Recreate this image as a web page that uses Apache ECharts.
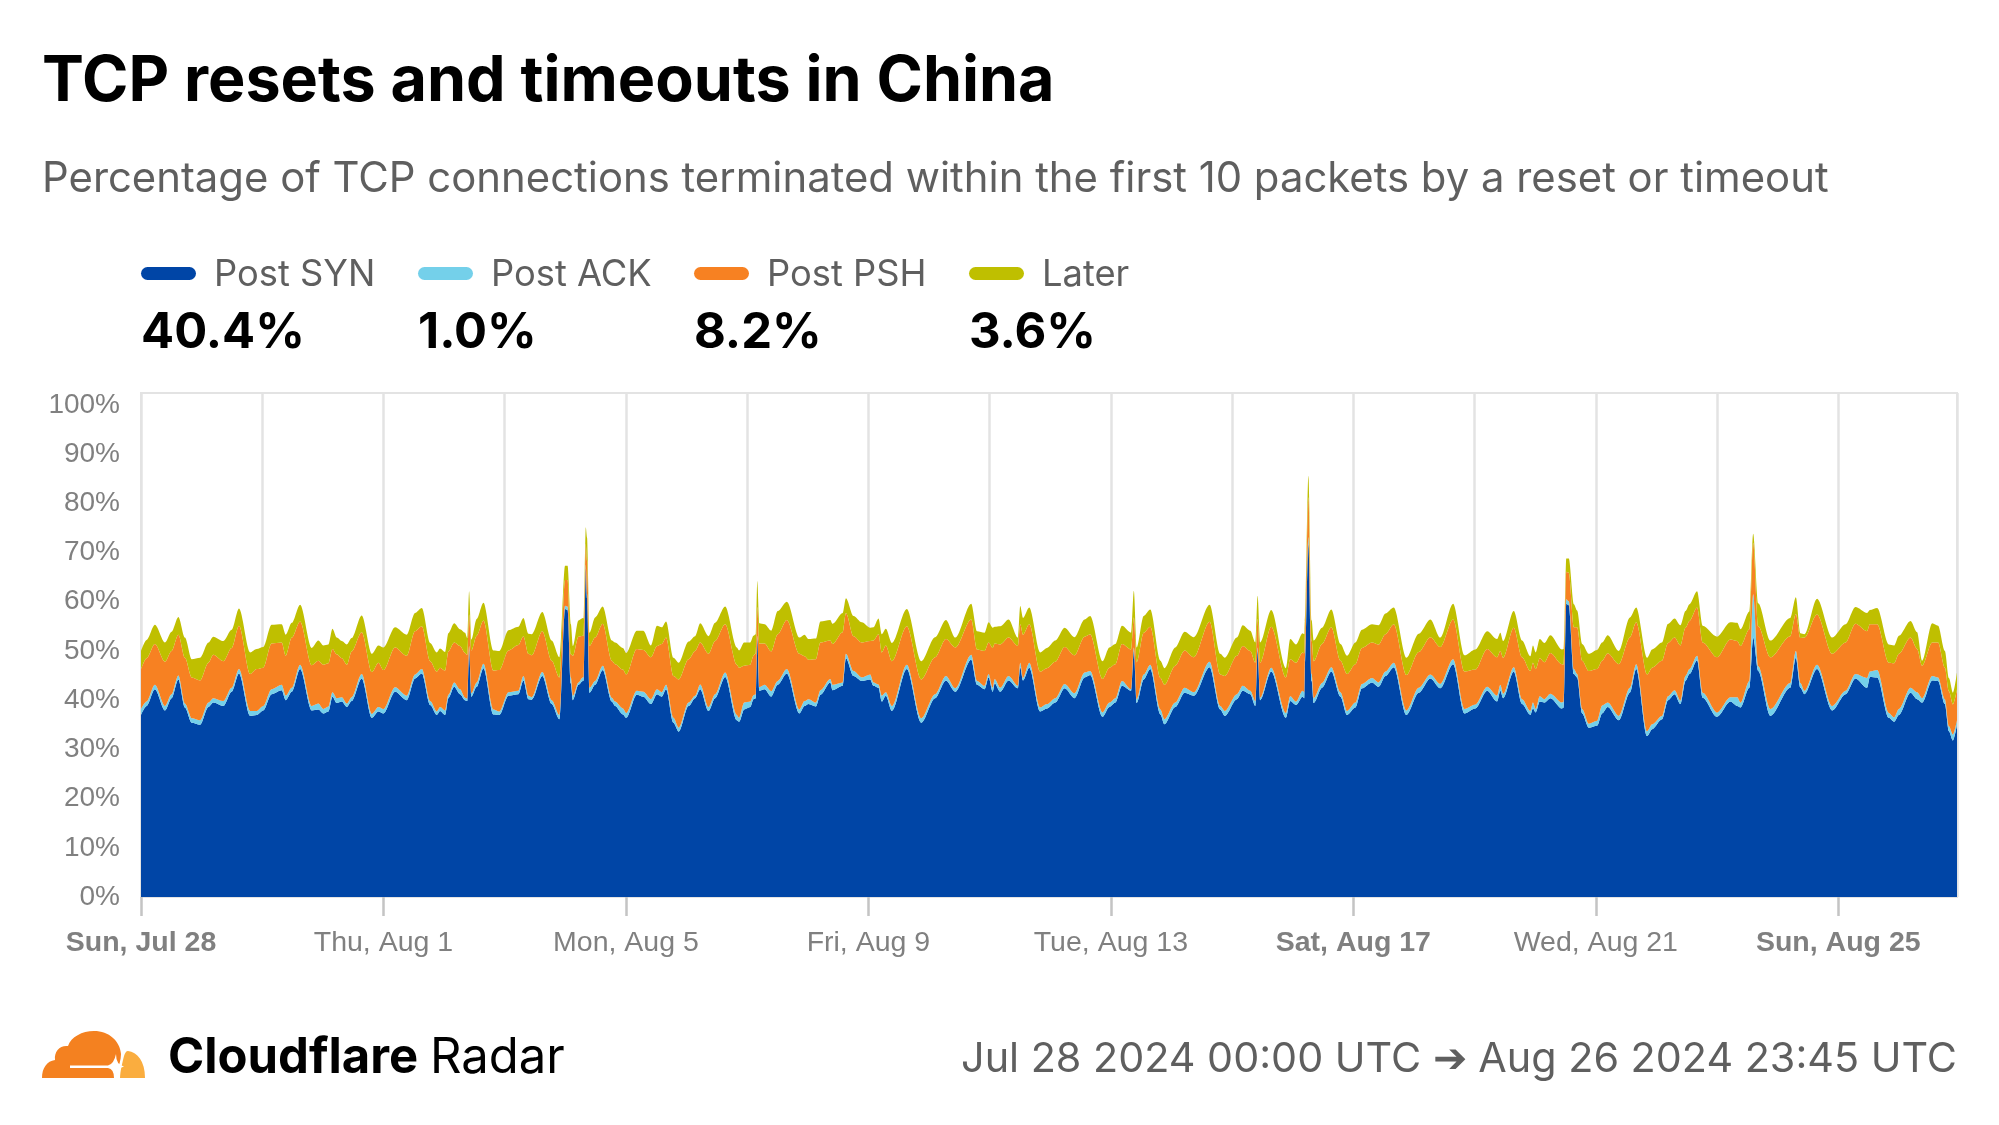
<!DOCTYPE html>
<html>
<head>
<meta charset="utf-8">
<script src="https://cdn.jsdelivr.net/npm/echarts@6/dist/echarts.min.js"></script>
<style>
  html, body { margin: 0; background: #fff; }
  #chart { width: 1999px; height: 1125px; }
</style>
</head>
<body>
<div id="chart"></div>
<script>
  // hours since Jul 28 2024 00:00 UTC at each feature of the curve
  const hours = [
    0,2.2,5.5,9.5,12.1,14.8,17.4,20.1,23.4,26.7,28.6,32.6,35.9,38.8,43.2,45.8,48.4,51.7,55.7,57.3,59.7,63,67.6,70.2,72.2,74.2,75.8,77.5,79.5,81.5,83.4,87.4,91.4,94,96,100.6,105.2,108.5,111.2,114.5,117.1,118.4,120.4,
    121.7,124,126.3,128.3,129.2,129.9,130.8,132.9,135.6,139.5,141.9,145.5,149.4,151.4,153.4,154.7,158.9,162.6,165.7,167.9,168.9,170.2,171,173.2,174.9,175.3,176.1,176.6,177.6,179.8,182.8,186.4,187.7,190.8,192.1,196.3,198.9,201.9,204.3,206.2,207.9,210.8,212.9,216.8,219.4,221.4,224.7,227.3,231.3,235.9,236.8,238.8,241.2,
    242.5,243.4,244,244.8,246.9,249.5,252.1,255.7,260.7,262.7,264.3,267.2,269,272.9,273.8,277.8,279.1,282.1,285.4,288.7,290,292,293.3,294.9,297.3,303.2,308.9,314.4,318.7,322.4,328.7,331,334,335.6,337.2,338,340.2,343.5,347.2,348.1,349.2,351.7,356,358.7,362,
    365.7,369.6,373.6,375.8,380.7,383.4,385.8,388.4,392,393.1,394.2,397,399.6,403.6,405.2,409.5,413.2,416.8,423.1,427.3,429.1,433.9,436.2,439.2,441.2,442.1,443.1,447.5,453.3,455,457.3,459.9,460.6,460.8,462.2,463.5,464.3,467.6,471.3,474.9,477.5,480.8,
    483.4,487.4,490,492.7,496,501,505.9,510.5,514.4,519.5,524,528.3,533,536.9,538.2,539.3,543.5,546.8,550.1,551.1,552.2,553.8,555.6,558,562.6,563.3,564.3,565.3,567.3,568.6,570.6,573.2,576.5,578.5,580.7,585.1,589.5,592,596.3,598.3,
    602.2,604.6,607.2,609.5,611.5,613.1,616.1,618.3,624,629.3,632,633.3,636.8,638.3,640.3,645.1,653,655.2,657,658.6,663.6,669.6,674.9,678.8,683.4,684.5,687.4,692,694.1,696,700.6,703.2,705.2,709.2,711.5,714.2,715.8,717.4,719
  ]
  const postSyn = [
    37,38.8,42.2,37.9,40.4,44.2,38.5,35.4,35,38.6,39.5,38.8,41.7,45.4,36.8,37,37.9,41.2,42,40,41.7,46.3,37.9,38.1,37.3,37.7,40.7,39.4,39.7,38.6,39.8,44.4,36.4,37.7,37.3,41.7,40,44.4,45.4,39,37,37.8,37,
    40.4,42.7,41.2,40,39.8,50.1,40.7,42.7,46.5,37.1,37,40.9,41.2,44,40.2,40.1,44.9,39.2,36.1,58.5,58.3,43.4,40,43.1,43.9,44,66.8,60.7,41.5,43.1,46.1,39.7,38.8,37.1,36.4,41.1,40.7,39.2,41.2,40.7,42.2,35.4,33.6,38.8,40.4,42.2,37.8,40.4,44.7,35.9,35.6,38.1,38.6,
    40.2,40.4,52.4,41.9,42.2,40.7,43.1,45.4,37.3,38.8,39.2,38.7,41.1,43.6,42,42.9,48.5,44.9,43.9,44.2,42.9,42.5,39.7,40.9,37.8,46.3,35.4,40.4,44,41.7,48.2,43.1,42.2,44.6,41.7,43.4,41.7,44,42.4,46.7,44,46.6,37.7,38.3,39.5,
    42.4,40.4,44.6,45.1,36.6,38.6,39.5,42.9,41.9,50,39.4,44.2,46.3,37.1,35.1,38.6,41.5,40.9,46.7,38.1,36.8,40.2,41.9,41.2,38.8,50,40,45.8,36.4,39.8,39,40.7,40.4,46.6,71.7,43.9,39.4,42.5,45.8,40.7,37,38.5,
    42.4,43.6,42.7,44.9,46.7,37,41.5,44.4,42.4,47.3,37.3,38.3,41.9,39.7,41.9,40.4,45.8,39.2,37,38.3,37.5,39.7,39.5,40.4,38.3,38.5,59.6,59.3,45.3,44.6,37.3,34.4,34.8,37.3,38.6,35.9,41.5,46.3,32.7,34.1,
    36.1,40,41.2,39.2,43.9,45.3,48.1,40.5,36.6,39.7,38.8,38.5,42.5,52.7,45.9,36.8,42.5,48.6,42.5,41.2,46.3,37.9,41.2,44.4,42.5,44.7,44.6,36.4,35.6,37,41.5,40.2,39.5,44,43.9,39.2,33.7,31.8,35
  ]
  const postAck = [
    1.2,.9,.9,.9,.8,.8,.8,.9,.9,.9,.9,1,.8,.9,1,.8,.9,1,1.1,.9,.8,.9,.9,1.2,.9,1,.9,1,.9,.7,.8,.9,.8,.9,.9,.9,.9,.8,.9,.8,.7,.8,.9,
    .7,.9,1,.5,.5,.9,.7,.9,.9,1,.7,.7,.7,.9,.7,.5,.8,.8,.9,.7,.7,1.2,.9,.5,.7,.7,.7,.8,1,.8,.9,.8,.9,1.2,1,.8,1,1,1,.9,.9,1,.8,.7,.5,1,.8,.8,.9,1.1,.8,1.4,1.1,
    .8,.8,.7,.7,.9,1.1,.8,.9,.8,1,1,.8,.9,.7,1.1,.7,.9,1,.7,1,.7,.7,1.2,.7,1,.9,.9,.8,.9,.7,1,.8,.7,.7,.8,.9,.8,.9,.5,.9,.5,1,.8,.9,.9,
    .9,1,1,.8,.9,.9,.9,1,.3,.7,.8,1,.9,1,1,.9,1,.7,1.1,.7,1,1,1,.7,1,.7,.5,.8,1,1,.7,1.2,1.2,1.4,1.4,1.4,1,1,.9,.9,.8,1,
    .9,.9,.9,.9,.9,.9,1,.8,.9,1,.9,.8,.8,1.2,1.2,.9,.9,1,.8,1.2,.7,1.1,.7,.9,1.2,1.2,.9,.8,1,.7,.9,.8,1,1.6,.9,.9,1,1,1,1,
    .7,.8,.8,.7,1,1,.9,1,.9,.9,1.8,1,1.4,8.8,1,1.4,1,1.4,1,.7,.9,.9,.7,.9,2,1.1,1.5,1,.9,1.2,1,1.4,.9,.9,.7,1,1,1.2,.9
  ]
  const postPsh = [
    8.1,8.8,8.3,9,8.8,8.3,9.3,8.3,8.1,8.1,8.8,8.1,8.1,8.8,7.5,8.5,7.8,9.3,8.6,8.1,10.2,8.8,8.3,8.7,9,8.8,8.8,8.9,7.9,7.9,9.3,8.5,8.5,9,7.9,8.1,8.1,8.8,8.7,8.1,8.1,8,8.1,
    8.8,8.1,8.8,9.1,8.9,6.4,8.7,9.5,8.8,7.9,8.4,8.5,9.3,8.1,8.5,8.5,8.3,8,7.6,5.2,5.4,4.7,8.1,9.3,8.5,8.3,4.2,6.8,8.5,8.8,8.5,7.5,7.6,7.9,7.8,8.5,8.5,8.5,8.8,9.8,9.6,8.5,9.8,8.8,9.1,8.5,10.8,10.8,9.8,10.2,10.2,7.5,7.5,
    8,8.3,5.8,8.9,8.4,8.1,9.5,10,11.3,9.1,8,8.8,9.7,7.8,8.3,10.2,8.3,7.1,7.1,6.8,8.5,10.2,8.8,9.5,9.1,7.8,7.9,7.5,7.5,8.3,7.2,6.4,7.1,6.4,8.1,7.2,8.8,7.8,8.1,7.8,8.8,7.8,7.3,7.3,7.4,
    7.5,7.7,7.3,7.5,6.8,7.1,6.9,7.5,8.1,6.1,7.5,8.5,7.7,6.4,7,7.5,7.6,7.1,8.1,6.4,7.1,7.8,8.1,8.1,7.8,5.8,7.1,8.3,7.2,7.5,7.9,7.8,7.9,5.4,8.1,6.8,7.5,7.9,8.1,6.4,7.5,7.8,
    7.3,7.2,7.7,7.6,7.8,7.2,7.3,7.6,7.5,8.1,7.6,7.1,7.7,7.8,6.9,7.3,8,8.5,8.1,8.1,8.1,7.7,7.5,8.3,7.8,7.5,5.6,5.8,8.5,9.5,9.8,10.7,10.5,9.1,10,10.5,10.2,8.5,11.5,11.5,
    11.2,10.8,10.7,11.2,9.8,9.8,9.8,10.2,11.2,11.7,11.4,11.5,10.5,10.5,8.1,10.5,9.5,7.5,9.1,10.8,10.2,10.6,9.8,10.2,9.5,9.6,9.3,10.2,11,11.2,10.2,8.8,6.6,6.8,7.1,6.4,7.1,6.1,6.3
  ]
  const later = [
    3.7,3.7,3.9,3.9,3.9,3.6,4.1,3.7,4.6,4.1,3.7,4.1,3.7,3.5,4.4,4.1,4.2,3.8,3.7,4.3,3,3.4,3.5,4.1,3.9,3.8,4.1,3.4,3.5,4.1,2.7,3.4,3.7,3.5,4.6,4.1,4.3,3.7,3.7,3.7,3.9,3.9,3.8,
    3.7,3.9,3.4,4.1,3.4,4.7,2.2,3.4,3.6,4.1,3.9,4.1,3.7,3.7,4.1,4.3,3.9,4.1,4.1,2.9,2.9,6.1,2,3.3,3.6,3.6,3.4,4.7,2.7,4.1,3.5,4.1,4.4,4.4,4.4,3.7,3.9,2.4,4.1,3.4,3.3,3.7,3.4,3.6,3,3.9,3.6,3.7,3.6,3.5,3.5,4.7,4.5,
    4.1,3.9,5.3,4.1,3.9,4.2,4.7,3.7,3.3,4.4,4.2,4.2,4.3,4.2,4.1,3.9,3,4.1,4.1,2.7,2.7,3.2,3.7,3.4,3.7,3.5,3.7,4.1,3.9,2,3.2,3.7,3.7,4.1,4.1,3.4,3.7,3.7,1.7,3.7,3.4,3.4,3.9,4.1,4.3,
    3.9,3.7,3.5,3.7,3.6,4.1,4.1,3.7,3.4,5.4,3,3.4,3.5,3.5,3.4,3.7,3.8,4.1,3.5,4.2,3.7,3.7,4.2,4.1,4.1,4.7,4.1,3.4,1.9,4.1,3.7,3.9,3.9,2.7,4.4,4.1,4.2,3.3,3.6,3.4,3.7,4.4,
    3.7,3.7,3.9,4.2,3.4,3.5,3.7,3.6,1.9,3.2,3.3,4.1,3.6,3.7,3.7,3.4,3.4,3.4,3,3.5,3.4,3.9,3.9,3.6,3,3.2,2.7,2.9,4.7,3.4,3.4,3.5,3.9,3.7,3.7,2.7,4.1,3,3.4,3.7,
    3.7,3.9,3.9,4.1,3.4,3.4,3.3,3.4,4.2,3.5,3.7,3.4,3.6,1.8,4.7,3.4,3.7,3.4,1,.7,3.2,3.3,3.7,3.4,3.7,2.9,3.3,3.7,3.6,3.7,3.4,3.4,1,3.9,3.4,3.4,2.7,2.4,3.4
  ]

  const yTicks = [0, 10, 20, 30, 40, 50, 60, 70, 80, 90, 100]
  const tickHours = [0, 96, 192, 288, 384, 480, 576, 672]
  const tickLabels = ['Sun, Jul 28', 'Thu, Aug 1', 'Mon, Aug 5', 'Fri, Aug 9', 'Tue, Aug 13', 'Sat, Aug 17', 'Wed, Aug 21', 'Sun, Aug 25']
  const boldTicks = ['Sun, Jul 28', 'Sat, Aug 17', 'Sun, Aug 25']
  const lastHour = 719

  const seriesNames = ['Post SYN', 'Post ACK', 'Post PSH', 'Later']
  const seriesTotals = ['40.4%', '1.0%', '8.2%', '3.6%']
  const seriesColors = ['#0045A6', '#74D0EA', '#F78122', '#BFBF00']
  const legendX = [141, 418, 694, 969]

  const startTime = Date.UTC(2024, 6, 28)
  const toTime = h => startTime + h * 3600000

  // the cloud logo has no built-in graphic type, so register its three pieces
  const registerLogoPart = (name, d) => echarts.graphic.registerShape(name, echarts.graphic.extendPath(d))
  registerLogoPart('cloudMain', 'M42 1078C42 1068 47 1061 55 1060C54 1051 60 1045 68 1046C71 1037 82 1031 94 1031C109 1031 120 1041 121 1054C121 1060 119 1066 116 1072L114 1078Z')
  registerLogoPart('cloudSide', 'M120 1078C120 1072 122 1064 124 1056C125 1053 126 1051 128 1051C137 1052 145 1061 145 1078Z')
  registerLogoPart('cloudSlit', 'M116 1054Q116 1065 124 1066.5Q117 1068 115.5 1078L114 1078Q114 1069 108 1068L70 1068L70 1065.5L108 1065.5Q114 1064 116 1054Z')

  const myChart = echarts.init(document.getElementById('chart'), null, { renderer: 'canvas' })

  const makeSeries = (name, values, color) => ({
    name,
    type: 'line',
    stack: 'total',
    symbol: 'none',
    sampling: false,
    smooth: 0.3,
    smoothMonotone: 'x',
    lineStyle: { width: 0 },
    areaStyle: { color, opacity: 1 },
    itemStyle: { color },
    data: values.map((v, i) => [toTime(hours[i]), v])
  })

  const text = (str, x, y, font, fill, align) => ({
    type: 'text',
    style: { text: str, x, y, font, fill, textAlign: align || 'left', textVerticalAlign: 'middle' }
  })

  // legend swatches, names and totals
  const legendItems = []
  seriesNames.forEach((name, i) => {
    legendItems.push({
      type: 'rect',
      shape: { x: legendX[i], y: 267, width: 55, height: 13, r: 6.5 },
      style: { fill: seriesColors[i] }
    })
    legendItems.push(text(name, legendX[i] + 73, 275, '36.3px Inter', '#5f5f5f'))
    legendItems.push(text(seriesTotals[i], legendX[i], 333, 'bold 49px Inter', '#000'))
  })

  const logo = [
    { type: 'cloudMain', style: { fill: '#F48120' } },
    { type: 'cloudSide', style: { fill: '#FAAD3F' } },
    { type: 'cloudSlit', style: { fill: '#fff' } }
  ]

  const option = {
    animation: false,
    backgroundColor: '#fff',
    title: [
      { text: 'TCP resets and timeouts in China', left: 42, top: 51, padding: 0, textStyle: { fontFamily: 'Inter', fontWeight: 'bold', fontSize: 62.8, color: '#000' } },
      { text: 'Percentage of TCP connections terminated within the first 10 packets by a reset or timeout', left: 42, top: 158, padding: 0, textStyle: { fontFamily: 'Inter', fontWeight: 'normal', fontSize: 41.85, color: '#5f5f5f' } }
    ],
    grid: { left: 141, right: 42, top: 393, bottom: 228, show: true, borderColor: '#e3e3e3', borderWidth: 2, backgroundColor: '#fff' },
    xAxis: [
      {
        // the series sit on this one, a time axis so that they stack on y
        type: 'time', min: toTime(0), max: toTime(lastHour),
        axisLine: { show: false }, axisTick: { show: false }, axisLabel: { show: false }, splitLine: { show: false }
      },
      {
        // visible ticks and date labels, counted in hours
        type: 'value', min: 0, max: lastHour, position: 'bottom',
        axisLine: { show: false },
        axisTick: { show: true, customValues: tickHours, length: 19, lineStyle: { color: '#c4c4c4', width: 2.5 } },
        splitLine: { show: false },
        axisLabel: {
          customValues: tickHours,
          margin: 32,
          color: '#808080',
          fontFamily: 'Liberation Sans',
          fontSize: 28.5,
          formatter: v => {
            const label = tickLabels[tickHours.indexOf(v)]
            return boldTicks.includes(label) ? '{b|' + label + '}' : label
          },
          rich: { b: { fontFamily: 'Liberation Sans', fontSize: 28.5, fontWeight: 'bold', color: '#808080' } }
        }
      },
      {
        // only there for the 2-day grid lines
        type: 'value', min: 0, max: lastHour, interval: 48, position: 'bottom',
        axisLine: { show: false }, axisTick: { show: false }, axisLabel: { show: false },
        splitLine: { show: true, lineStyle: { color: '#e3e3e3', width: 2.5 } }
      }
    ],
    yAxis: {
      type: 'value', min: 0, max: 102.4,
      axisLine: { show: false }, axisTick: { show: false }, splitLine: { show: false },
      axisLabel: {
        customValues: yTicks,
        margin: 21,
        color: '#808080',
        fontFamily: 'Liberation Sans',
        fontSize: 28,
        padding: [0, 0, 7, 0],
        formatter: '{value}%'
      }
    },
    series: [
      makeSeries(seriesNames[0], postSyn, seriesColors[0]),
      makeSeries(seriesNames[1], postAck, seriesColors[1]),
      makeSeries(seriesNames[2], postPsh, seriesColors[2]),
      makeSeries(seriesNames[3], later, seriesColors[3])
    ],
    graphic: [
      ...legendItems,
      ...logo,
      text('Cloudflare', 168, 1058, 'bold 49px Inter', '#000'),
      text('Radar', 430, 1058, '49px Inter', '#000'),
      text('Jul 28 2024 00:00 UTC ➔ Aug 26 2024 23:45 UTC', 1957, 1060, '41.3px Inter', '#5f5f5f', 'right')
    ]
  }

  myChart.setOption(option)
  if (![postSyn, postAck, postPsh, later].every(a => a.length === hours.length)) {
    console.error('length mismatch ' + [hours.length, postSyn.length, postAck.length, postPsh.length, later.length].join(','))
  }
</script>
</body>
</html>
